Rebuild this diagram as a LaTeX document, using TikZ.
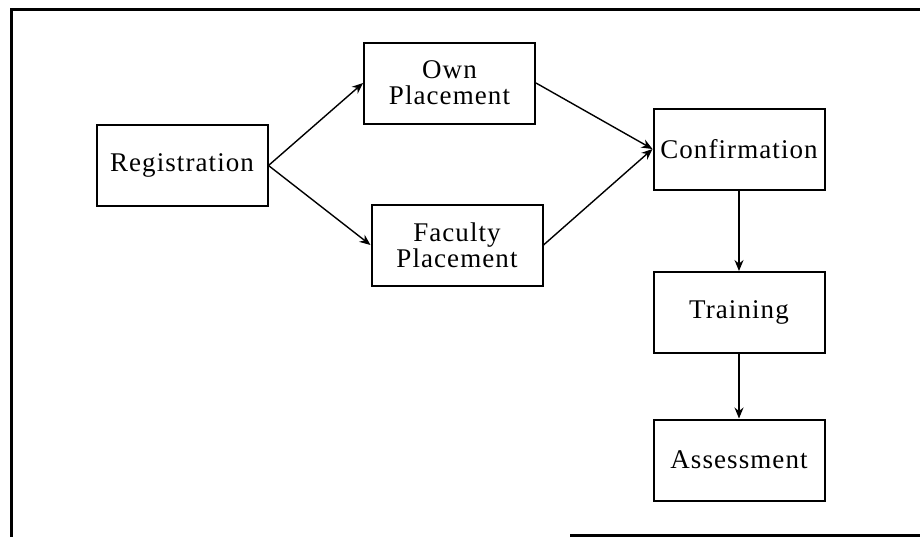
\documentclass[tikz,border=0pt]{standalone}
\usepackage{fontspec}
\setmainfont{Liberation Serif}[LetterSpace=4]
\usepackage{tikz}
\usetikzlibrary{arrows.meta, positioning}
\tikzstyle{box} = [rectangle, minimum width=85.5pt, minimum height=40.5pt, inner sep=2pt, align=center, text centered, draw=black, line width=1pt, font=\fontsize{13.5}{13}\selectfont]
\tikzstyle{arrow} = [line width=0.7pt, -{Stealth[length=5.5pt, width=4.5pt]}]

\begin{document}
\begin{tikzpicture}[
				node distance=1cm,
				on grid
			]

			\useasboundingbox (0pt,0pt) rectangle (460pt,-268.5pt);

			% outer frame (bottom edge only partly printed)
			\draw[line width=1.5pt] (460pt,-4.5pt) -- (5.5pt,-4.5pt) -- (5.5pt,-268.5pt);
			\draw[line width=1.5pt] (285pt,-267.5pt) -- (460pt,-267.5pt);

			\node[box] (reg) at (91pt,-82.75pt) {Registration};
			\node[box, above right=41.25pt and 133.75pt of reg] (own) {Own\\Placement};
			\node[box, below right=39.75pt and 137.5pt of reg] (faculty) {Faculty\\Placement};
			\node[box, below right=33pt and 144.75pt of own] (confirm) {Confirmation};
			\node[box, below=81.75pt of confirm] (training) {Training};
			\node[box, below=73.75pt of training] (assess) {Assessment};

			\draw[arrow] (reg.east) -- (own.west);
			\draw[arrow] (reg.east) -- (faculty.west);
			\draw[arrow] (own.east) -- (confirm.west);
			\draw[arrow] (faculty.east) -- (confirm.west);

			% vertical chain
			\draw[arrow] (confirm.south) -- (training.north);
			\draw[arrow] (training.south) -- (assess.north);
		\end{tikzpicture}
\end{document}
